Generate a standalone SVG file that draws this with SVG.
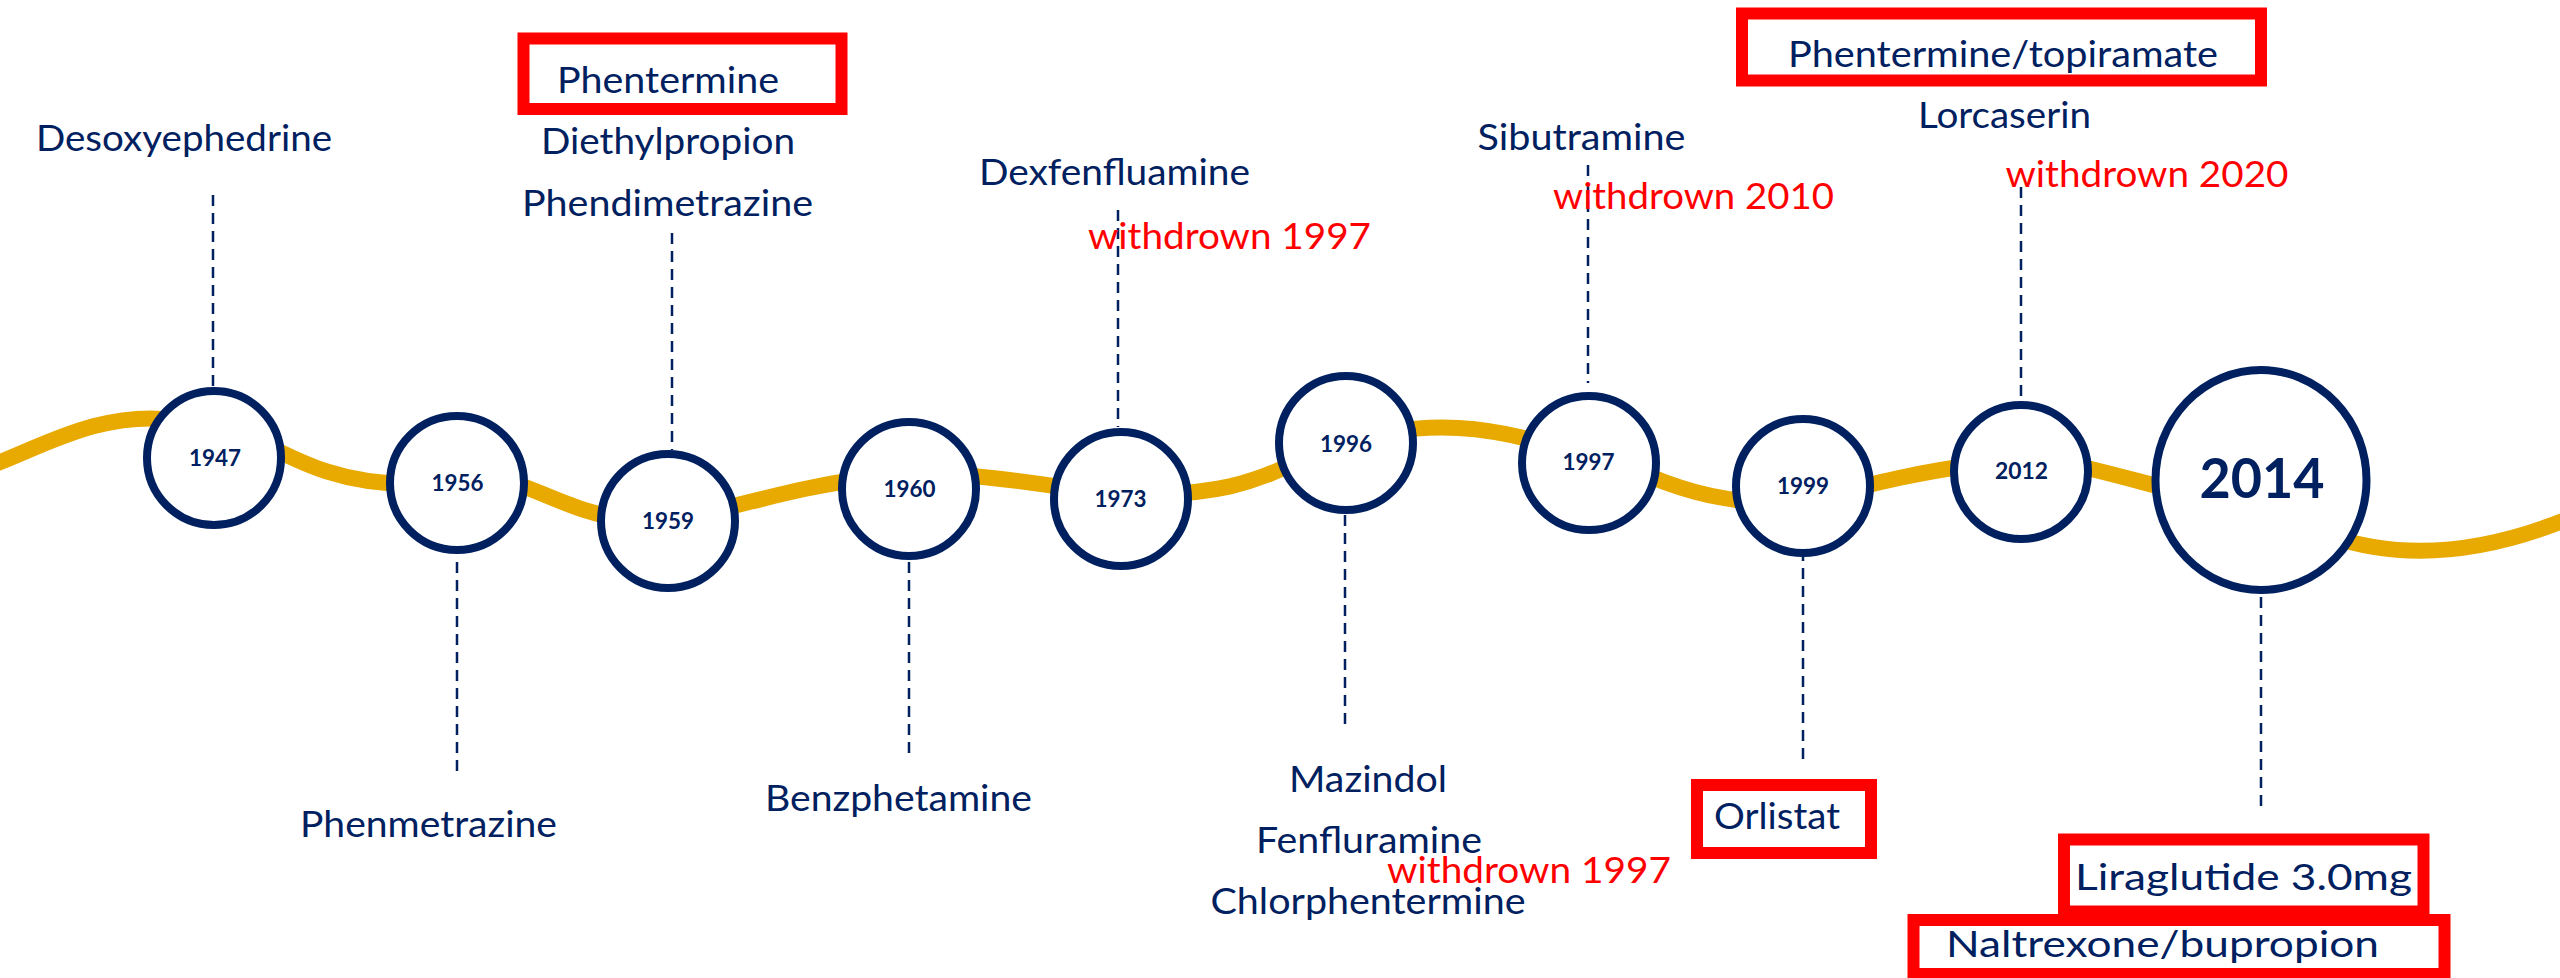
<svg xmlns="http://www.w3.org/2000/svg" width="2560" height="978" viewBox="0 0 2560 978">
<style>
.t{font-family:Lato,"Liberation Sans",sans-serif;font-size:36px;fill:#002060}
.wd{fill:#FF0000}
.yr{font-family:Lato,"Liberation Sans",sans-serif;font-weight:bold;font-size:23px;fill:#002060;text-anchor:middle}
.ring{fill:#fff;stroke:#002060;stroke-width:8}
.lead{stroke:#002060;stroke-width:2.5;stroke-dasharray:11 7;fill:none}
.wave{fill:none;stroke:#E8AA00;stroke-width:16}
.hl{fill:none;stroke:#FF0000;stroke-width:12}
</style>
<rect width="2560" height="978" fill="#fff"/>
<g id="connectors">
<path class="wave" d="M-10,466 C40,448 100,410 175,420"/>
<path class="wave" d="M260,442 C300,462 340,484 410,484"/>
<path class="wave" d="M500,478 C540,490 580,515 630,520"/>
<path class="wave" d="M700,514 C760,500 810,485 870,478"/>
<path class="wave" d="M950,474 C990,477 1030,482 1080,490"/>
<path class="wave" d="M1160,494 C1210,493 1250,486 1300,460"/>
<path class="wave" d="M1390,432 C1430,425 1480,424 1550,445"/>
<path class="wave" d="M1630,468 C1680,490 1710,498 1760,503"/>
<path class="wave" d="M1840,492 C1880,482 1920,472 1980,464"/>
<path class="wave" d="M2060,462 C2100,470 2140,482 2180,492"/>
<path class="wave" d="M2330,536 C2400,560 2480,555 2570,518"/>
<line class="lead" x1="213" y1="195" x2="213" y2="387"/>
<line class="lead" x1="457" y1="562" x2="457" y2="777"/>
<line class="lead" x1="672" y1="233" x2="672" y2="450"/>
<line class="lead" x1="909" y1="562" x2="909" y2="757"/>
<line class="lead" x1="1118" y1="210" x2="1118" y2="427"/>
<line class="lead" x1="1345" y1="515" x2="1345" y2="726"/>
<line class="lead" x1="1588" y1="165" x2="1588" y2="383"/>
<line class="lead" x1="1803" y1="550" x2="1803" y2="765"/>
<line class="lead" x1="2021" y1="187" x2="2021" y2="400"/>
<line class="lead" x1="2261" y1="597" x2="2261" y2="813"/>
</g>
<g id="n1947">
<circle class="ring" cx="214" cy="458" r="67"/>
<text class="yr" x="215" y="466" textLength="52" lengthAdjust="spacingAndGlyphs">1947</text>
<text class="t" x="36" y="151" textLength="296" lengthAdjust="spacingAndGlyphs">Desoxyephedrine</text>
</g>
<g id="n1956">
<circle class="ring" cx="457" cy="483" r="67"/>
<text class="yr" x="457.5" y="491" textLength="52" lengthAdjust="spacingAndGlyphs">1956</text>
<text class="t" x="300" y="837" textLength="257" lengthAdjust="spacingAndGlyphs">Phenmetrazine</text>
</g>
<g id="n1959">
<circle class="ring" cx="668" cy="521" r="67"/>
<text class="yr" x="668" y="529" textLength="52" lengthAdjust="spacingAndGlyphs">1959</text>
<rect class="hl" x="523.5" y="38.5" width="318" height="70.5"/>
<text class="t" x="557" y="93" textLength="222" lengthAdjust="spacingAndGlyphs">Phentermine</text>
<text class="t" x="541" y="154" textLength="254" lengthAdjust="spacingAndGlyphs">Diethylpropion</text>
<text class="t" x="522" y="215.5" textLength="291" lengthAdjust="spacingAndGlyphs">Phendimetrazine</text>
</g>
<g id="n1960">
<circle class="ring" cx="909" cy="489" r="67"/>
<text class="yr" x="909.5" y="497" textLength="52" lengthAdjust="spacingAndGlyphs">1960</text>
<text class="t" x="765" y="811" textLength="267" lengthAdjust="spacingAndGlyphs">Benzphetamine</text>
</g>
<g id="n1973">
<circle class="ring" cx="1121" cy="499" r="67"/>
<text class="yr" x="1120.5" y="507" textLength="52" lengthAdjust="spacingAndGlyphs">1973</text>
<text class="t" x="979" y="185" textLength="271" lengthAdjust="spacingAndGlyphs">Dexfenfluamine</text>
<text class="t wd" x="1088" y="249" textLength="283" lengthAdjust="spacingAndGlyphs">withdrown 1997</text>
</g>
<g id="n1996">
<circle class="ring" cx="1346" cy="443" r="67"/>
<text class="yr" x="1346" y="451.5" textLength="52" lengthAdjust="spacingAndGlyphs">1996</text>
<text class="t" x="1289" y="792" textLength="158" lengthAdjust="spacingAndGlyphs">Mazindol</text>
<text class="t" x="1256" y="853" textLength="226" lengthAdjust="spacingAndGlyphs">Fenfluramine</text>
<text class="t wd" x="1387" y="883" textLength="284" lengthAdjust="spacingAndGlyphs">withdrown 1997</text>
<text class="t" x="1210.5" y="914" textLength="315" lengthAdjust="spacingAndGlyphs">Chlorphentermine</text>
</g>
<g id="n1997">
<circle class="ring" cx="1589" cy="463" r="67"/>
<text class="yr" x="1588.5" y="470" textLength="52" lengthAdjust="spacingAndGlyphs">1997</text>
<text class="t" x="1477.5" y="150" textLength="208" lengthAdjust="spacingAndGlyphs">Sibutramine</text>
<text class="t wd" x="1553" y="208.5" textLength="281" lengthAdjust="spacingAndGlyphs">withdrown 2010</text>
</g>
<g id="n1999">
<circle class="ring" cx="1803" cy="486" r="67"/>
<text class="yr" x="1803" y="494" textLength="52" lengthAdjust="spacingAndGlyphs">1999</text>
<rect class="hl" x="1697" y="785" width="174" height="68"/>
<text class="t" x="1714" y="828.5" textLength="126" lengthAdjust="spacingAndGlyphs">Orlistat</text>
</g>
<g id="n2012">
<circle class="ring" cx="2021" cy="472" r="67"/>
<text class="yr" x="2021.5" y="479" textLength="53" lengthAdjust="spacingAndGlyphs">2012</text>
<rect class="hl" x="1742" y="13.5" width="519" height="67"/>
<text class="t" x="1788" y="67" textLength="430" lengthAdjust="spacingAndGlyphs">Phentermine/topiramate</text>
<text class="t" x="1918" y="128" textLength="173" lengthAdjust="spacingAndGlyphs">Lorcaserin</text>
<text class="t wd" x="2005.5" y="187" textLength="283" lengthAdjust="spacingAndGlyphs">withdrown 2020</text>
</g>
<g id="n2014">
<ellipse class="ring" cx="2261" cy="480" rx="105.5" ry="110"/>
<text class="yr" x="2262" y="497.5" style="font-size:56px" textLength="125" lengthAdjust="spacingAndGlyphs">2014</text>
<rect class="hl" x="2064" y="839.5" width="359.5" height="72"/>
<text class="t" x="2075" y="890" textLength="337" lengthAdjust="spacingAndGlyphs">Liraglutide 3.0mg</text>
<rect class="hl" x="1913.5" y="920" width="531" height="54"/>
<text class="t" x="1946" y="956.5" textLength="433" lengthAdjust="spacingAndGlyphs">Naltrexone/bupropion</text>
</g>
</svg>
